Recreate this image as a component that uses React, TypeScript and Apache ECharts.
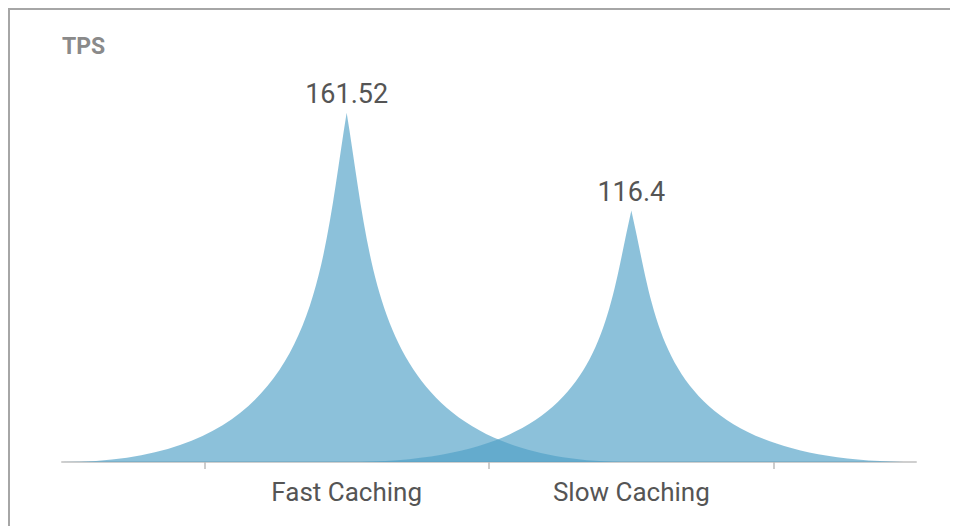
import React, { useEffect, useRef } from 'react';
import * as echarts from 'echarts';

const categories = ['Fast Caching', 'Slow Caching'];
const tps = [161.52, 116.4];
const yAxisName = 'TPS';
const yMax = 180;

// The axis is laid out as 7 points; the two categories sit on points 2 and 4,
// ticks on the odd points.
const slotCount = 7;
const categorySlots = [2, 4];

const spike = 'path://M0,10 L10,10 C5.5,10 5.5,5 5,0 C4.5,5 4.5,10 0,10 z';
const FONT = 'Roboto, "Liberation Sans", sans-serif';

export default function App() {
  const ref = useRef<HTMLDivElement>(null);
  useEffect(() => {
    const chart = echarts.init(ref.current!, null, { renderer: 'svg' });
    const axisData: string[] = Array.from({ length: slotCount }, () => '');
    const seriesData: any[] = Array.from({ length: slotCount }, () => '-');
    categorySlots.forEach((s, i) => {
      axisData[s] = categories[i];
      seriesData[s] = tps[i];
    });
    chart.setOption({
      animation: false,
      grid: { left: 52, right: 35, top: 63, bottom: 64, containLabel: false },
      xAxis: {
        type: 'category',
        data: axisData,
        boundaryGap: false,
        axisLine: { lineStyle: { color: '#cfcfcf', width: 2 } },
        axisTick: {
          interval: (i: number) => i % 2 === 1,
          length: 7,
          lineStyle: { color: '#bdbdbd', width: 1.5 },
        },
        axisLabel: {
          interval: 0,
          color: '#555',
          fontSize: 26,
          fontFamily: FONT,
          margin: 17,
        },
        splitLine: { show: false },
      },
      yAxis: {
        type: 'value',
        min: 0,
        max: yMax,
        name: yAxisName,
        nameGap: 15,
        nameTextStyle: { color: '#8a8a8a', fontSize: 23, fontWeight: 'bold', fontFamily: FONT, align: 'left' },
        axisLine: { show: false },
        axisTick: { show: false },
        axisLabel: { show: false },
        splitLine: { show: false },
      },
      series: [
        {
          type: 'pictorialBar',
          symbol: spike,
          barWidth: '400%',
          data: seriesData,
          itemStyle: { color: 'rgba(79,160,198,0.65)' },
          label: {
            show: true,
            position: 'top',
            distance: 5,
            color: '#555',
            fontSize: 27,
            fontFamily: FONT,
          },
        },
      ],
    });
    return () => chart.dispose();
  }, []);
  return (
    <div
      style={{
        borderLeft: '2px solid #a6a6a6',
        borderTop: '2px solid #a6a6a6',
        borderRight: '2px solid #a6a6a6',
        width: 941,
        height: 516,
      }}
    >
      <div ref={ref} style={{ width: 941, height: 516 }} />
    </div>
  );
}
